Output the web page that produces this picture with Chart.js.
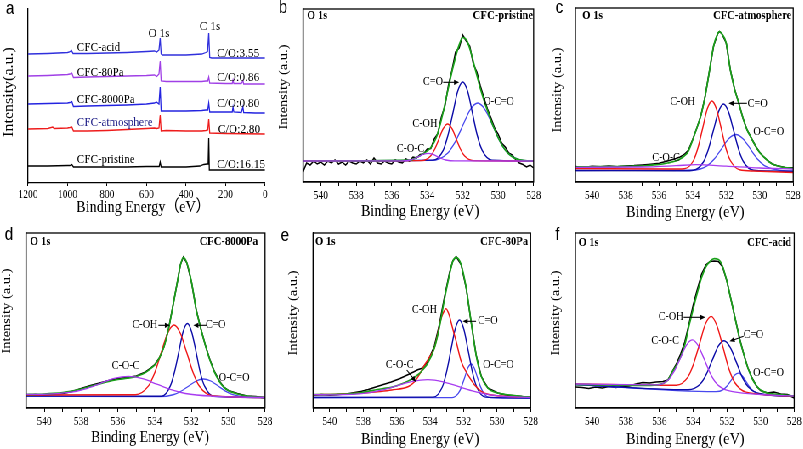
<!DOCTYPE html>
<html><head><meta charset="utf-8">
<script src="https://cdn.jsdelivr.net/npm/chart.js@4.4.1/dist/chart.umd.min.js"></script>
<style>
html,body{margin:0;padding:0;background:#fff;overflow:hidden;width:803px;height:449px;}
#wrap{position:absolute;left:0;top:0;width:945px;height:449px;transform:scaleX(0.85);transform-origin:0 0;}
canvas{position:absolute;}
</style></head><body><div id="wrap"></div>
<script>
// ================= DATA =================
// ---- panel a: survey spectra (binding energy eV, offset intensity) ----
const aE_acid = [1200,1100,1000,990,980,972,900,800,700,600,560,548,537,531,526,520,400,320,300,291,285,280,270,0];
const a_acid  = [129,129.5,130.5,131,132.5,129.5,129.5,130,130.5,131.5,132,131,133,145,129,128,128,129,130.5,131.5,150,125.5,125,125];
const aE_80Pa = [1200,1100,1000,988,978,970,900,800,700,600,560,548,537,531,526,500,400,320,300,290,285,280,200,166,162,158,120,112,108,50,0];
const a_80Pa  = [107,107.5,108.5,109,110,105.5,106,106.5,107,107.5,108,106.5,109,122,102,101.5,101.5,101.5,102,102,106,100,99.5,99.5,103,99.5,99.5,102.5,99,99,99];
const aE_8000Pa = [1200,1100,1000,988,978,970,900,800,700,600,560,550,537,531,526,500,400,320,300,290,285,280,200,166,162,158,120,112,108,50,0];
const a_8000Pa  = [79,79.5,80,80.5,81.5,76.5,77,77.5,78,79,80,81,79,96,72,72,72,72.5,73,73,80,71,71,71,76,71,70.5,76,70.5,70,70];
const aE_atm = [1200,1100,1075,1068,1000,988,978,970,900,800,700,600,560,548,537,531,526,500,400,320,300,290,285,280,200,0];
const a_atm  = [54,54.5,56,54.5,55,55.5,56,52,52,52.5,53.5,54.5,55,54.5,55,68,52,52.5,52,52,52.5,53,64,50,49.5,49];
const aE_pri = [1200,1100,1000,988,978,970,900,800,700,600,540,536,531,526,400,330,310,295,288,285,282,270,0];
const a_pri  = [17,17,17.5,17.5,18.5,16,16,16,16,16.5,16.5,16.5,21,16,16,17,18.5,19,19,45,13,13,13];

// ---- panel b: CFC-pristine O 1s ----
const bE_raw = [541,540.8,540.6,540.4,540.2,540,539.8,539.6,539.4,539.2,539,538.8,538.6,538.4,538.2,538,537.8,537.6,537.4,537.2,537,536.8,536.6,536.4,536.2,536,535.8,535.6,535.4,535.2,535,534.8,534.6,534.4,534.2,534,533.8,533.6,533.4,533.2,533,532.8,532.6,532.4,532.2,532,531.8,531.6,531.4,531.2,531,530.8,530.6,530.4,530.2,530,529.8,529.6,529.4,529.2,529,528.8,528.6,528.4,528.2,528];
const b_raw  = [10,19,17,21,18,20,17,21,19,22,18,20,17,21,19,18,21,19,22,18,24,19,18,21,19,18,22,20,19,23,21,25,24,27.5,28,33,33.5,43,48.5,65,76,97,112,130,134,147,141,136,118,110,96,84,73,64,54,48,39,35,29,27,22,19,17.5,15,17,14];
const bE_fit = [541,535,534.5,534.25,534,533.75,533.5,533.25,533,532.75,532.5,532.25,532,531.75,531.5,531.25,531,530.75,530.5,530.25,530,529.75,529.5,529.25,529,528.5,528];
const b_fit  = [21,21.9,25.3,27.9,31.1,35.5,44,58.8,78,98.8,118,134.4,144.5,141,127.3,110,93.2,78.9,66.2,54.5,44.4,35.9,29.8,25.8,23.4,21.4,21];
const bE_CO  = [541,533.65,533.1,532.83,532.55,532.28,532,531.72,531.45,531.18,530.9,530.35,528];
const b_CO   = [21,21.9,31.7,46.7,69,90.7,100,90.7,69,46.7,31.7,21.9,21];
const bE_OCO = [541,533.7,532.85,532.43,532,531.58,531.15,530.73,530.3,529.88,529.45,528.6,528];
const b_OCO  = [21,21.6,28.8,39.9,56.2,72.2,79,72.2,56.2,39.9,28.8,21.6,21];
const bE_COH = [541,534.29,533.81,533.57,533.33,533.09,532.85,532.61,532.37,532.13,531.89,531.41,528];
const b_COH  = [21,21.4,26,33,43.5,53.6,58,53.6,43.5,33,26,21.4,21];
const bE_COC = [541,535.45,534.95,534.7,534.45,534.2,533.95,533.7,533.45,533.2,532.95,532.45,528];
const b_COC  = [21,21.1,22,23.5,25.7,27.8,28.7,27.8,25.7,23.5,22,21.1,21];

// ---- panel c: CFC-atmosphere O 1s ----
const cE_raw = [541,540.5,540,539.5,539,538.5,538,537.5,537,536.5,536,535.5,535.25,535,534.75,534.5,534.25,534,533.75,533.5,533.25,533,532.75,532.5,532.4,532.25,532,531.75,531.5,531.25,531,530.75,530.5,530.25,530,529.75,529.5,529.25,529,528.5,528];
const c_raw  = [15.5,14.6,15.8,15.2,15.9,15.3,16.1,16.4,17,17.8,18.8,21,22.2,23.5,25,27.5,32,42.5,54,67,86,111,136,148.5,150.5,148,139,112,93,79,64,52,44,36,29.5,25,21,18,16.5,14.6,14.2];
const c_fit  = [15,15.1,15.2,15.3,15.4,15.5,15.6,15.8,16,16.8,17.5,19,20,21,23,26,31,42,54,67,86,111,136,148.5,150.3,148,139,112,93,79,64,52,44,36,29.5,25,21,18,16.5,14.5,13.7];
const cE_COH = [541,535.35,534.5,533.95,533.68,533.4,533.13,532.85,532.58,532.3,532.03,531.75,531.2,530.35,528];
const c_COH  = [13.5,13,13.3,21.5,34.5,54,73,81,73,54,34.5,21.5,12.2,11,9.5];
const cE_CO  = [541,534.5,533.96,533.36,533.06,532.76,532.46,532.16,531.86,531.56,531.26,530.96,530.36,529.5,528];
const c_CO   = [11.5,11.2,11.7,20,32.8,51.7,70.1,78,70.1,51.7,32.8,20,11.7,11,10.5];
const cE_OCO = [541,533.97,533.12,532.7,532.27,531.85,531.42,531,530.57,530.15,529.72,528.87,528];
const c_OCO  = [11.5,11.9,16.4,23.2,33.4,43.3,47.5,43.3,33.4,23.2,16.4,11.9,11];
const cE_COC = [541,537,535,533.8,532,530,528];
const c_COC  = [14.7,15,16.3,17.3,15.8,14,13];
const cE_bg  = [541,535];
const c_bg   = [11.3,11.3];

// ---- panel d: CFC-8000Pa O 1s ----
const dE_raw = [541,540.5,540,539.5,539,538.5,538,537.5,537,536.5,536,535.5,535,534.5,534.25,534,533.75,533.5,533.25,533,532.75,532.6,532.44,532.25,532,531.75,531.5,531.25,531,530.75,530.5,530.25,530,529.5,529,528.5,528];
const d_raw  = [12.5,13.5,12.8,13.8,14.5,16.5,19.5,22.5,25,27.5,29.5,30.5,32,36,39.5,43.5,50,61,79,103,128,143.5,151,145,126,99,80,63,48.5,36.5,27.5,21,17.5,14.5,12,11.5,10];
const d_fit  = [13.5,13.7,14,14.6,15.5,17,19,21.7,24,26.7,28.5,29.8,31.5,35.5,39,43,50,61,79,103,128,143,150.7,145,126,99,80,63,48,36,27,21,17.5,14,12,11,10.5];
const dE_COH = [541,535.05,534.35,534,533.65,533.3,532.95,532.6,532.25,531.9,531.55,530.85,528];
const d_COH  = [13,13.3,21.9,35.3,55.3,74.7,83,74.5,54.9,34.8,21.2,12.1,10.5];
const dE_CO  = [541,533.63,533.16,532.93,532.69,532.46,532.22,531.99,531.75,531.52,531.28,530.81,528];
const d_CO   = [12,11.8,21.7,35.5,56,76,84.5,76,56,35.4,21.6,11.7,10.5];
const dE_OCO = [541,533.75,532.95,532.55,532.15,531.75,531.35,530.95,530.55,530.15,529.75,528.95,528];
const d_OCO  = [12,11.3,13.5,17,22,27,29,27,22,16.9,13.3,10.9,10.5];
const dE_COC = [541,540.08,538.53,537.76,536.98,536.21,535.43,534.66,533.88,533.11,532.33,530.78,528];
const d_COC  = [13.7,13.7,15.8,19.2,24.4,29.6,31.7,29.3,23.8,18.3,14.5,11.7,10.5];

// ---- panel e: CFC-80Pa O 1s ----
const eE_raw = [541,540.5,540,539.5,539,538.5,538.1,537.7,537.3,536.8,536.33,535.8,535.34,535,534.75,534.45,534.14,533.75,533.46,533.17,532.85,532.65,532.45,532.15,531.85,531.56,531.26,530.95,530.56,529.96,529.5,528.97,528.5,528];
const e_raw  = [12.5,13.5,12.8,13.5,14,15.5,16.7,18.5,20.7,23.5,26,29.5,33.3,36,38.3,40,46.7,62,83,109,135,147,151.5,143.3,120,86.7,53.3,31.7,20,15,13,12.3,11.5,11];
const e_fit  = [13.3,13.4,13.5,13.7,14,14.7,15.5,16.7,18,19.4,20.7,23.5,26.7,30,33,38,45,60,80,106.7,133.3,146.7,150.7,143.3,120,86.7,53.3,31.7,20,15,13.5,12.3,11.5,11];
const eE_COH = [541,539,538,537,536.3,535.3,534.9,534.54,534.3,534,533.75,533.5,533.39,533.25,533.05,532.85,532.65,532.45,532.15,531.75,531.36,530.95,530.5,530,529,528];
const e_COH  = [13.3,14,15,16.5,18,21.5,27,36.7,44,52,60,78,86.7,94,99.3,92,79,66.7,46.7,33.3,23.3,16.7,13.5,12.3,11.2,10.8];
const eE_CO  = [541,533.81,533.29,533.03,532.77,532.51,532.25,531.99,531.73,531.47,531.21,530.69,528];
const e_CO   = [10.5,10.9,20.5,35.4,57.3,78.8,88,78.8,57.3,35.4,20.5,10.9,10];
const eE_OCO = [541,532.7,532.32,532.13,531.94,531.75,531.56,531.37,531.18,530.99,530.8,530.42,528];
const e_OCO  = [10.5,10.4,14.6,21.1,30.6,40,44,40,30.6,21.1,14.6,10.4,10];
const eE_COC = [541,539.69,537.84,536.92,535.99,535.07,534.14,533.22,532.29,531.37,530.44,528.59,528];
const e_COC  = [13.3,13.2,14.8,17.8,22.2,26.6,28.3,26.2,21.4,16.6,13.2,10.8,10.5];

// ---- panel f: CFC-acid O 1s ----
const fE_raw = [541,540.6,540.2,539.8,539.4,539,538.6,538.2,537.8,537.4,537,536.6,536.2,535.8,535.5,535.25,535,534.75,534.5,534.25,534,533.75,533.5,533.25,533,532.75,532.5,532.25,532,531.75,531.5,531.25,531,530.75,530.5,530.25,530,529.6,529.2,528.8,528.4,528];
const f_raw  = [21,20.5,19.5,21,20,21.5,20.5,21.5,22,24,25.5,25,26,26.5,28,36,44,54,66,84,103,119,134,143,146.5,147,146.5,141,127,108,89,70,54,40,30,22,17.5,15,16,14,13.5,10];
const f_fit  = [23.5,23.4,23.3,23.2,23.1,23,22.9,22.8,22.7,22.6,22.5,22.6,23,24.5,28,36,42.5,51,63,82,99,115.5,130.5,141,146.7,149.3,148.5,141.5,126.7,108,89,69.5,54,40,29.5,22.5,18,15,14,13.3,12.7,12];
const fE_COH = [541,535,534.31,533.97,533.62,533.28,532.93,532.59,532.24,531.9,531.55,530.86,528];
const f_COH  = [24,22.8,31.1,44.5,64.3,83.7,91.6,82.3,61.6,40.3,26,15.9,12];
const fE_CO  = [541,534.29,533.58,533.23,532.87,532.52,532.16,531.81,531.45,531.1,530.74,530.03,528];
const f_CO   = [23.5,18.2,24,33.4,47.7,61.6,67.3,60.9,46.4,31.4,21.3,14.2,11.7];
const fE_OCO = [541,532.66,532.21,531.99,531.76,531.54,531.31,531.09,530.86,530.64,530.41,529.96,528];
const f_OCO  = [23.5,16.3,18.4,22,27.4,32.7,34.8,32.2,26.5,20.7,16.7,13.8,11.7];
const fE_COC = [541,536.17,535.46,535.11,534.75,534.4,534.04,533.69,533.33,532.98,532.62,531.91,528];
const f_COC  = [24,23.1,28.5,37.4,50.2,62.9,68.1,61.9,48.2,34.3,24.5,17.3,12];

// ================= RENDERING =================
const K = 0.85;
const SERIF = '"Liberation Serif","Times New Roman",serif';
const SANS = '"Liberation Sans",Arial,sans-serif';
const CJK = '"Liberation Serif","Noto Sans CJK SC",serif';
const GREEN='#1aa01a', RED='#f01818', NAVY='#0c0ca8', BLUE='#4848ee', PURP='#a83cf0';

function pts(E,V){ return E.map((e,i)=>({x:e,y:V[i]})); }
function ln(E,V,color,w,smooth){
  return {data:pts(E,V), borderColor:color, borderWidth:w, pointRadius:0, fill:false,
          tension: smooth?0.4:0, cubicInterpolationMode: smooth?'monotone':'default'};
}
function fitSet(Er,raw,Ef,fit,Ecoc,coc,Ecoh,coh,Eco,co,Eoco,oco,extra){
  const s=[ln(Ecoc,coc,PURP,1.3,true), ln(Ef,fit,GREEN,1.7,true), ln(Ecoh,coh,RED,1.4,true),
           ln(Eco,co,NAVY,1.4,true), ln(Eoco,oco,BLUE,1.3,true)];
  if(extra) s.push(extra);
  s.push(ln(Er,raw,'#000',1.5,false));
  return s;
}
function drawText(ctx,s,x,y,o){
  ctx.save(); ctx.translate(x,y); if(o.r) ctx.rotate(o.r);
  ctx.font=o.f; ctx.fillStyle=o.c||'#000'; ctx.textAlign=o.a||'center'; ctx.textBaseline='middle';
  ctx.fillText(s,0,0); ctx.restore();
}
function arrow(ctx,x1,y1,x2,y2){
  const g=Math.atan2(y2-y1,x2-x1), L=6, W=2.6;
  ctx.save(); ctx.strokeStyle='#000'; ctx.fillStyle='#000'; ctx.lineWidth=1.1;
  ctx.beginPath(); ctx.moveTo(x1,y1); ctx.lineTo(x2-Math.cos(g)*L*0.8,y2-Math.sin(g)*L*0.8); ctx.stroke();
  ctx.beginPath(); ctx.moveTo(x2,y2);
  ctx.lineTo(x2-L*Math.cos(g)+W*Math.sin(g), y2-L*Math.sin(g)-W*Math.cos(g));
  ctx.lineTo(x2-L*Math.cos(g)-W*Math.sin(g), y2-L*Math.sin(g)+W*Math.cos(g));
  ctx.closePath(); ctx.fill(); ctx.restore();
}

const F_ANN='12px '+SERIF, F_BOLD='bold 12.5px '+SERIF, F_XT='16.5px '+SERIF, F_YT='14.5px '+SERIF, F_LET='18px '+SANS;
const ROT=-Math.PI/2;

function xps(id,box,area,datasets,letter,letterXY,name,o1sXY,nameXY,ytXY,xtXY,ann,arrows){
  return {id,box,area,frame:true,xmin:528,xmax:541,step:1,even:true,datasets,
    texts:[{t:letter,x:letterXY[0],y:letterXY[1],f:F_LET},
           {t:'O 1s',x:o1sXY[0],y:o1sXY[1],f:F_BOLD,a:'left'},
           {t:name,x:nameXY[0],y:nameXY[1],f:F_BOLD,a:'right'},
           {t:'Intensity (a.u.)',x:ytXY[0],y:ytXY[1],f:F_YT,r:ROT},
           {t:'Binding Energy (eV)',x:xtXY[0],y:xtXY[1],f:F_XT}],
    ann, arrows};
}

const panels = [
 {id:'a',box:[0,0,272,222],area:[28,9,265,183],frame:false,xmin:0,xmax:1200,step:200,even:false,
  datasets:[ln(aE_acid,a_acid,'#3030dc',1.3,false), ln(aE_80Pa,a_80Pa,'#a040e6',1.3,false),
            ln(aE_8000Pa,a_8000Pa,'#2424e0',1.3,false), ln(aE_atm,a_atm,'#ee1c1c',1.3,false),
            ln(aE_pri,a_pri,'#000',1.3,false)],
  texts:[{t:'a',x:10,y:9,f:F_LET},
         {t:'O 1s',x:159,y:33,f:'13.5px '+SERIF},{t:'C 1s',x:210,y:26,f:'13.5px '+SERIF},
         {t:'CFC-acid',x:77,y:48,f:'13px '+SERIF,a:'left'},
         {t:'CFC-80Pa',x:77,y:73,f:'13px '+SERIF,a:'left'},
         {t:'CFC-8000Pa',x:77,y:100,f:'13px '+SERIF,a:'left'},
         {t:'CFC-atmosphere',x:77,y:123,f:'13px '+SERIF,a:'left',c:'#1c1c86'},
         {t:'CFC-pristine',x:77,y:160,f:'13px '+SERIF,a:'left'},
         {t:'C/O:3.55',x:217,y:53,f:'13.5px '+SERIF,a:'left'},
         {t:'C/O:0.86',x:217,y:77,f:'13.5px '+SERIF,a:'left'},
         {t:'C/O:0.80',x:217,y:103,f:'13.5px '+SERIF,a:'left'},
         {t:'C/O:2.80',x:218,y:129,f:'13.5px '+SERIF,a:'left'},
         {t:'C/O:16.15',x:217,y:164,f:'13.5px '+SERIF,a:'left'},
         {t:'Intensity(a.u.)',x:9,y:92,f:'16px '+SERIF,r:ROT},
         {t:'Binding Energy\uFF08eV\uFF09',x:143,y:208,f:'16.5px '+CJK}],
  ann:[],arrows:[]},
 xps('b',[266,0,552,222],[303,9,534,182],
     fitSet(bE_raw,b_raw,bE_fit,b_fit,bE_COC,b_COC,bE_COH,b_COH,bE_CO,b_CO,bE_OCO,b_OCO),
     'b',[283,8],'CFC-pristine',[307,16],[533,16],[284,87],[420,212],
     [{t:'C=O',e:533.67,v:99.7},{t:'O-C=O',e:529.97,v:79.7},{t:'C-OH',e:534.13,v:58},{t:'C-O-C',e:534.94,v:33}],
     [[533.1,99.7,532.2,99.7]]),
 xps('c',[536,0,803,222],[575,8,793,182],
     fitSet(cE_raw,c_raw,cE_raw,c_fit,cE_COC,c_COC,cE_COH,c_COH,cE_CO,c_CO,cE_OCO,c_OCO,ln(cE_bg,c_bg,'#efe4a0',1.2,false)),
     'c',[559,8],'CFC-atmosphere',[582,16],[791,16],[557,90],[685,213],
     [{t:'C-OH',e:534.6,v:80.3},{t:'C=O',e:530.13,v:77.7},{t:'O-C=O',e:529.47,v:49.7},{t:'C-O-C',e:535.59,v:23.7}],
     [[530.76,78.7,531.86,78.7]]),
 xps('d',[0,222,272,449],[26,233,265,408],
     fitSet(dE_raw,d_raw,dE_raw,d_fit,dE_COC,d_COC,dE_COH,d_COH,dE_CO,d_CO,dE_OCO,d_OCO),
     'd',[9,235],'CFC-8000Pa',[30,242],[258,242],[7,311],[150,438],
     [{t:'C-OH',e:534.53,v:82.7},{t:'C=O',e:530.68,v:82.7},{t:'C-O-C',e:535.58,v:41.7},{t:'O-C=O',e:529.67,v:30}],
     [[533.8,82.7,533.17,82.7],[531.17,82.7,531.9,82.7]]),
 xps('e',[266,222,552,449],[313,233,531,408],
     fitSet(eE_raw,e_raw,eE_raw,e_fit,eE_COC,e_COC,eE_COH,e_COH,eE_CO,e_CO,eE_OCO,e_OCO),
     'e',[285,236],'CFC-80Pa',[315,242],[528,242],[293,313],[420,440],
     [{t:'C-OH',e:534.34,v:98.3},{t:'C=O',e:530.56,v:86.7},{t:'O-C=O',e:529.93,v:43.3},{t:'C-O-C',e:535.83,v:43.3}],
     [[531.26,86.7,532.06,86.7],[535.4,38,534.85,26]]),
 xps('f',[536,222,803,449],[575,233,794,408],
     fitSet(fE_raw,f_raw,fE_raw,f_fit,fE_COC,f_COC,fE_COH,f_COH,fE_CO,f_CO,fE_OCO,f_OCO),
     'f',[557,235],'CFC-acid',[578,243],[791,243],[556,313],[685,440],
     [{t:'C-OH',e:535.32,v:90.7},{t:'C-O-C',e:535.66,v:67.3},{t:'C=O',e:530.42,v:72.7},{t:'O-C=O',e:529.53,v:35}],
     [[534.57,90.7,533.28,90.7],[531.01,71.7,531.84,66.7]])
];

function makePanel(P){
  const [l,t,r,b]=P.box, [L,T,R,B]=P.area;
  const W=Math.round((r-l)/K), H=b-t;
  const cv=document.createElement('canvas');
  cv.width=W; cv.height=H;
  cv.style.left=(l/K)+'px'; cv.style.top=t+'px'; cv.style.width=W+'px'; cv.style.height=H+'px';
  document.getElementById('wrap').appendChild(cv);
  const toX=X=>(X-l)/K, toY=Y=>Y-t;
  const deco={id:'deco'+P.id, afterDraw(ch){
    const ctx=ch.ctx, xs=ch.scales.x, ys=ch.scales.y, ca=ch.chartArea;
    if(P.frame){ ctx.save(); ctx.strokeStyle='#000'; ctx.lineWidth=1.3;
      ctx.strokeRect(ca.left,ca.top,ca.right-ca.left,ca.bottom-ca.top); ctx.restore(); }
    for(const p of P.texts) drawText(ctx,p.t,toX(p.x),toY(p.y),p);
    for(const p of P.ann) drawText(ctx,p.t,xs.getPixelForValue(p.e),ys.getPixelForValue(p.v),{f:F_ANN});
    for(const a of P.arrows) arrow(ctx,xs.getPixelForValue(a[0]),ys.getPixelForValue(a[1]),xs.getPixelForValue(a[2]),ys.getPixelForValue(a[3]));
  }};
  new Chart(cv,{type:'line',data:{datasets:P.datasets},
    options:{responsive:false,animation:false,devicePixelRatio:1,
      layout:{padding:{left:(L-l)/K,right:(r-R)/K,top:T-t,bottom:0}},
      plugins:{legend:{display:false},tooltip:{enabled:false}},
      elements:{point:{radius:0}},
      scales:{
        x:{type:'linear',reverse:true,min:P.xmin,max:P.xmax,
           ticks:{stepSize:P.step,autoSkip:false,maxRotation:0,minRotation:0,padding:P.id==='a'?2:3,color:'#000',
                  font:{family:SERIF,size:11.5},
                  callback:(v)=> (P.even && v%2!==0) ? '' : String(v)},
           grid:{display:true,drawOnChartArea:false,drawTicks:true,tickLength:P.id==='a'?3:4,color:'#000',tickColor:'#000',lineWidth:1},
           border:{display:true,color:'#000',width:1.3},
           afterFit(s){ s.height=b-B; s.paddingLeft=0; s.paddingRight=0; }},
        y:{type:'linear',min:0,max:B-T,ticks:{display:false},grid:{display:false,drawTicks:false},
           border:{display:true,color:'#000',width:1.3},
           afterFit(s){ s.width=0; }}
      }},
    plugins:[deco]});
}
panels.forEach(makePanel);
</script>
</body></html>
